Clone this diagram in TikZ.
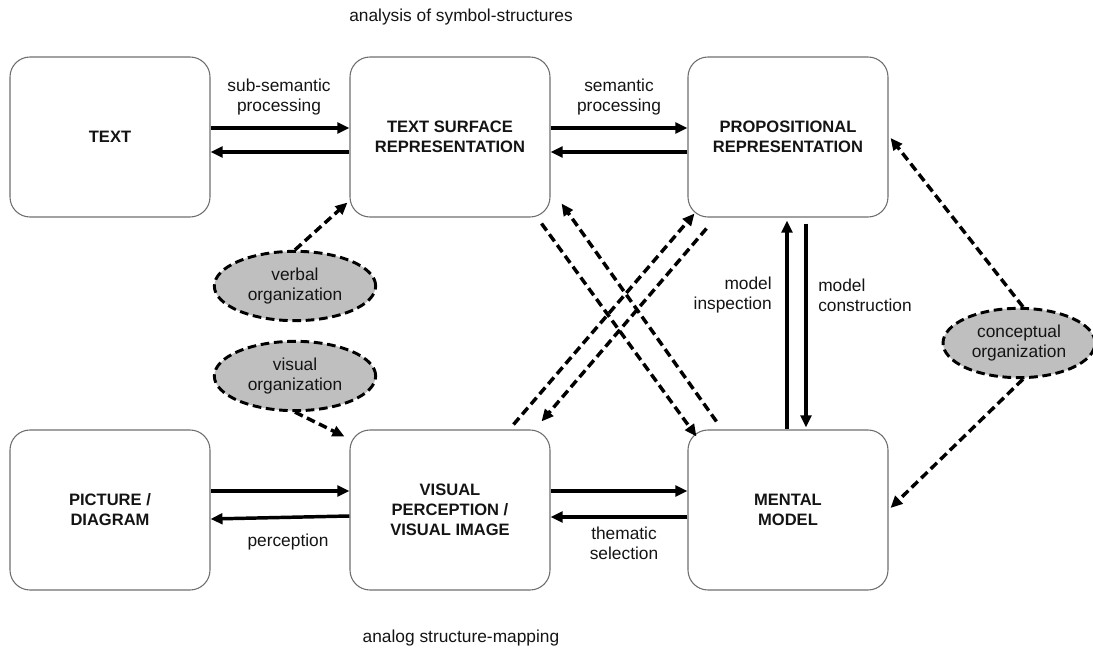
\documentclass[tikz,border=0pt]{standalone}
\usepackage{fontspec}
\setmainfont{Liberation Sans}
\usepackage{xcolor}
\usepackage{tikz}
\usetikzlibrary{shapes.geometric, arrows.meta, calc}
\definecolor{ModelBorder}{RGB}{110, 110, 110}
\definecolor{ModelOrgFill}{RGB}{191, 191, 191}
\definecolor{ModelInk}{RGB}{20, 20, 20}

\begin{document}
\begin{tikzpicture}[x=0.75pt, y=-0.75pt,
    repbox/.style={draw=ModelBorder, line width=0.8pt, rounded corners=15pt,
      minimum width=150pt, minimum height=120pt, align=center, text=ModelInk,
      font=\fontsize{12.4}{15}\selectfont\bfseries},
    orgblob/.style={ellipse, draw=black, fill=ModelOrgFill, line width=2.2pt,
      dash pattern=on 6.5pt off 3.5pt, minimum width=121pt, minimum height=52pt,
      inner sep=0pt, align=center, text=ModelInk,
      font=\fontsize{13}{15}\selectfont},
    flow/.style={line width=2.6pt, -{Triangle[length=9pt, width=8pt]}},
    dflow/.style={line width=2.6pt, dash pattern=on 6.5pt off 3.5pt,
      -{Triangle[length=9pt, width=8pt]}},
    lbl/.style={align=center, inner sep=0pt, text=ModelInk,
      font=\fontsize{13}{15}\selectfont}]
  \useasboundingbox (0,0) rectangle (1093,652);

  % the six representations
  \node[repbox] (text) at (110,137) {TEXT};
  \node[repbox] (tsr)  at (450,137) {TEXT SURFACE\\REPRESENTATION};
  \node[repbox] (prop) at (788,137) {PROPOSITIONAL\\REPRESENTATION};
  \node[repbox] (pic)  at (110,510) {PICTURE /\\DIAGRAM};
  \node[repbox] (vis)  at (450,510) {VISUAL\\PERCEPTION /\\VISUAL IMAGE};
  \node[repbox] (mm)   at (788,510) {MENTAL\\MODEL};

  % organization processes
  \node[orgblob] (verbal) at (295,286) {verbal\\organization};
  \node[orgblob] (visual) at (295,376) {visual\\organization};
  \node[orgblob, minimum width=114pt] (concept) at (1019,343) {conceptual\\organization};

  % headings
  \node[lbl] (symbhead) at (461,17) {analysis of symbol-structures};
  \node[lbl] (analhead) at (461,638) {analog structure-mapping};

  % solid processing arrows
  \draw[flow] ($(text.east)+(0,-9)$) -- ($(tsr.west)+(0,-9)$);
  \draw[flow] ($(tsr.west)+(0,15)$) -- ($(text.east)+(0,15)$);
  \draw[flow] ($(tsr.east)+(0,-9)$) -- ($(prop.west)+(0,-9)$);
  \draw[flow] ($(prop.west)+(0,15)$) -- ($(tsr.east)+(0,15)$);
  \draw[flow] ($(pic.east)+(0,-19)$) -- ($(vis.west)+(0,-19)$);
  \draw[flow] ($(vis.west)+(0,6)$) -- ($(pic.east)+(0,9)$);
  \draw[flow] ($(vis.east)+(0,-19)$) -- ($(mm.west)+(0,-19)$);
  \draw[flow] ($(mm.west)+(0,7)$) -- ($(vis.east)+(0,7)$);
  \draw[flow] ($(mm.north)+(-1,0)$) -- ($(prop.south)+(-1,3)$);
  \draw[flow] ($(prop.south)+(18,6)$) -- ($(mm.north)+(18,-2)$);

  \node[lbl] (subsem) at (279,97) {sub-semantic\\processing};
  \node[lbl] (sem) at (619,97) {semantic\\processing};
  \node[lbl, anchor=east, align=right] (inspect) at (772,295) {model\\inspection};
  \node[lbl, anchor=west, align=left] (construct) at (818,295) {model\\construction};
  \node[lbl] (percept) at (288,542) {perception};
  \node[lbl] (thematic) at (624,543) {thematic\\selection};

  % dashed organization arrows
  \draw[dflow] (verbal.north) -- ($(tsr.south west)+(-2,-15)$);
  \draw[dflow] (visual.south) -- ($(vis.north west)+(-5,7)$);
  \draw[dflow] ($(concept.north)+(4,0)$) -- ($(prop.east)+(2,1)$);
  \draw[dflow] ($(concept.south)+(4,0)$) -- ($(mm.east)+(2,-2)$);

  % crossing mappings
  \draw[dflow] ($(tsr.south east)+(-9,6)$) -- ($(mm.north west)+(9,7)$);
  \draw[dflow] ($(mm.north west)+(29,-8)$) -- ($(tsr.south east)+(11,-14)$);
  \draw[dflow] ($(vis.north east)+(-37,-5)$) -- ($(prop.south west)+(7,-4)$);
  \draw[dflow] ($(prop.south west)+(19,11)$) -- ($(vis.north east)+(-9,-8)$);
\end{tikzpicture}
\end{document}
